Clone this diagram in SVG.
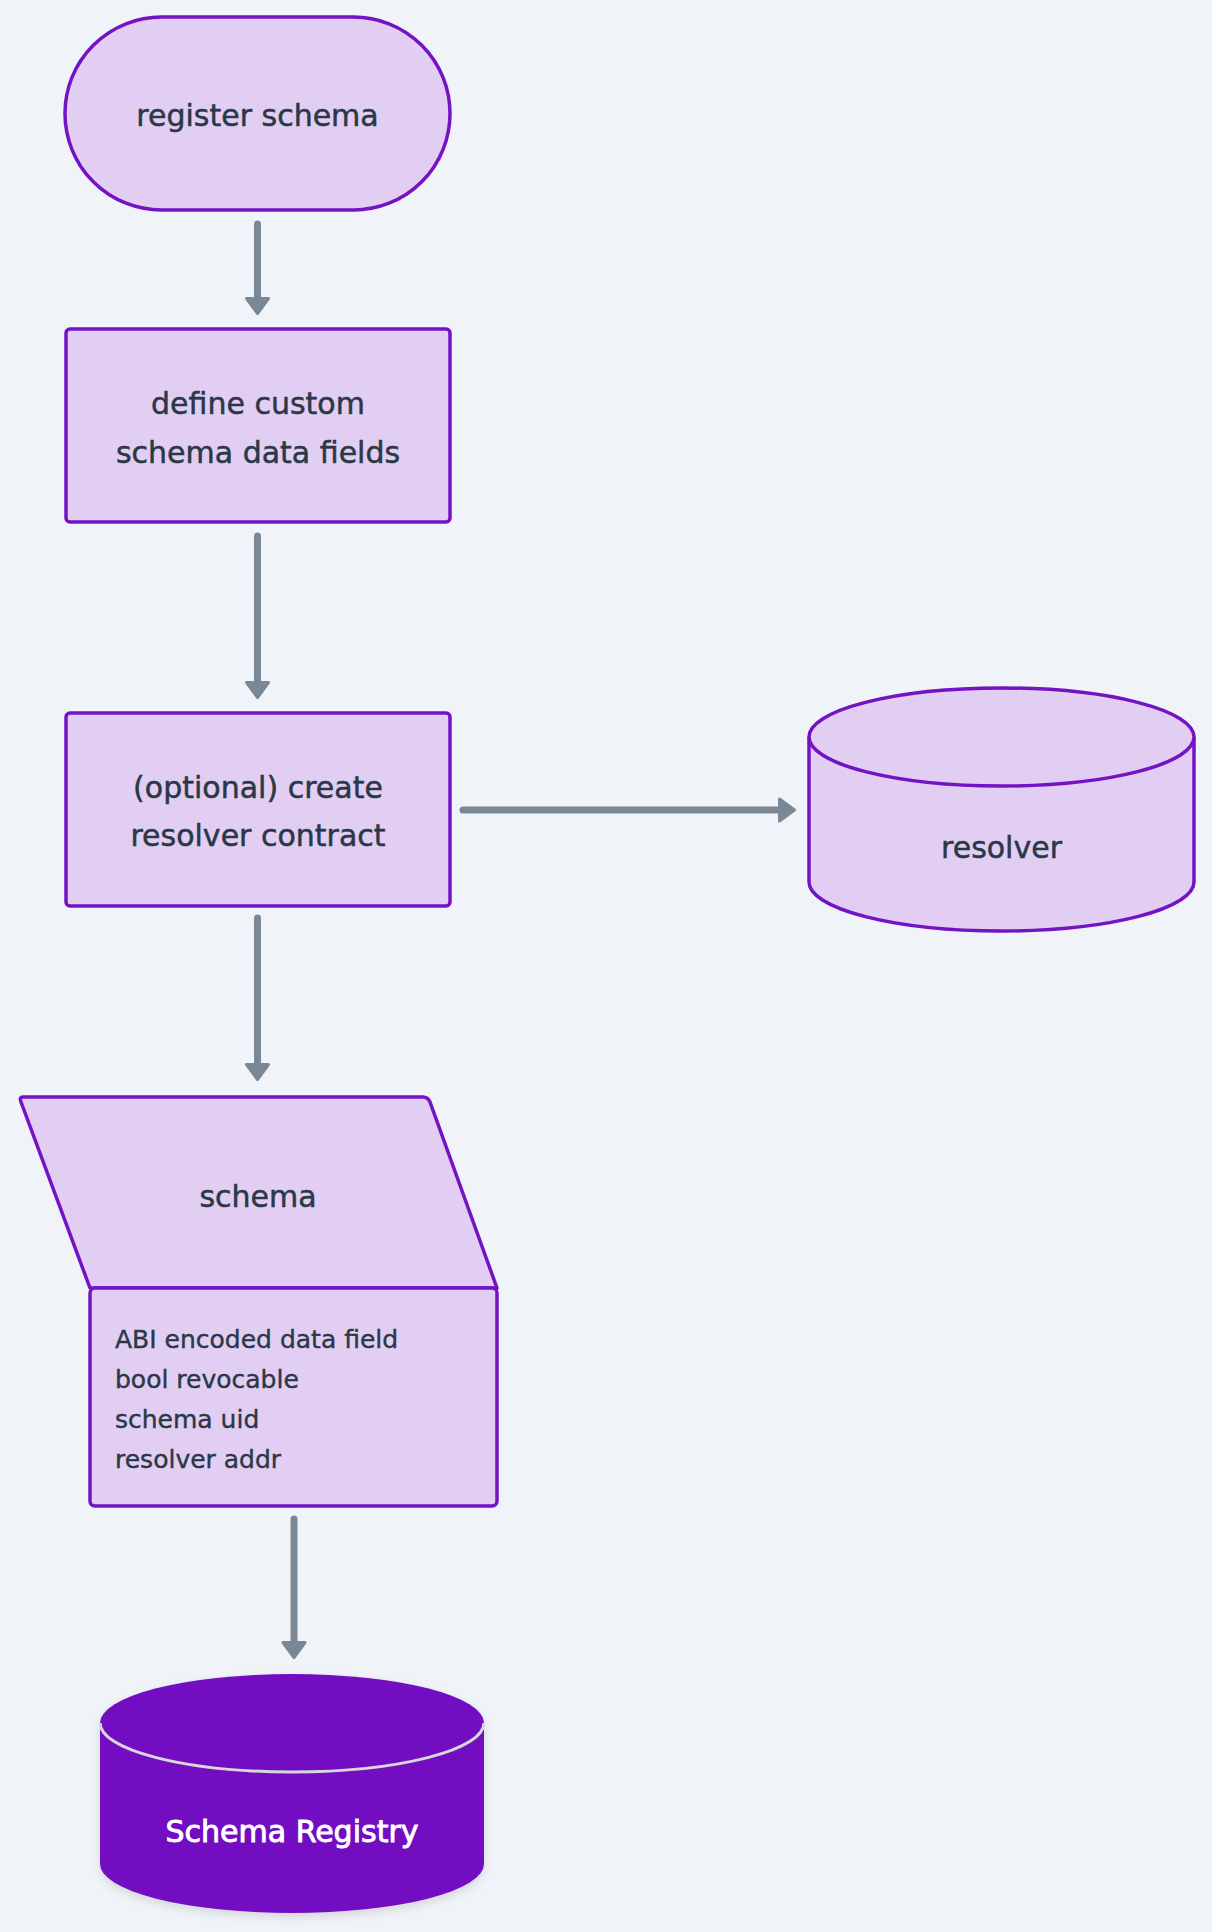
<svg xmlns="http://www.w3.org/2000/svg" width="1212" height="1932" viewBox="0 0 1212 1932">
<defs>
<style>
.node{fill:#E2CEF3;stroke:#7413C4;stroke-width:3.5;stroke-linejoin:round}
.lbl{font-family:"DejaVu Sans",sans-serif;font-size:30px;fill:#2A3846;stroke:#2A3846;stroke-width:0.5;text-anchor:middle}
.note{font-family:"DejaVu Sans",sans-serif;font-size:25px;fill:#2A3846;stroke:#2A3846;stroke-width:0.4}
.edge{stroke:#7A8794;stroke-width:7;stroke-linecap:round;fill:none}
</style>
<marker id="ah" viewBox="0 0 18 26" refX="1" refY="13" markerWidth="18" markerHeight="26" markerUnits="userSpaceOnUse" orient="auto">
<path d="M1.5,2 L16.5,13 L1.5,24 Z" fill="#7A8794" stroke="#7A8794" stroke-width="3" stroke-linejoin="round"/>
</marker>
<filter id="sh" x="-10%" y="-10%" width="120%" height="130%">
<feDropShadow dx="0" dy="4" stdDeviation="5" flood-color="#000" flood-opacity="0.12"/>
</filter>
</defs>
<rect width="1212" height="1932" fill="#F0F4F8"/>
<g id="connectors">
<line class="edge" x1="257.5" y1="224" x2="257.5" y2="298" marker-end="url(#ah)"/>
<line class="edge" x1="257.5" y1="536" x2="257.5" y2="682" marker-end="url(#ah)"/>
<line class="edge" x1="463" y1="810" x2="779" y2="810" marker-end="url(#ah)"/>
<line class="edge" x1="257.5" y1="918" x2="257.5" y2="1064" marker-end="url(#ah)"/>
<line class="edge" x1="294" y1="1519" x2="294" y2="1642" marker-end="url(#ah)"/>
</g>
<g id="register-schema">
<rect class="node" x="65" y="17" width="385" height="193" rx="96.5"/>
<text class="lbl" x="257.5" y="126">register schema</text>
</g>
<g id="define-fields">
<rect class="node" x="66" y="329" width="384" height="193" rx="4"/>
<text class="lbl" x="258" y="414">define custom</text>
<text class="lbl" x="258" y="463">schema data fields</text>
</g>
<g id="create-resolver">
<rect class="node" x="66" y="713" width="384" height="193" rx="4"/>
<text class="lbl" x="258" y="798">(optional) create</text>
<text class="lbl" x="258" y="846">resolver contract</text>
</g>
<g id="resolver">
<path class="node" d="M809,737 A192.5,49 0 0,1 1194,737 V882 A192.5,49 0 0,1 809,882 Z"/>
<path class="node" fill="none" d="M809,737 A192.5,49 0 0,0 1194,737"/>
<text class="lbl" x="1001.5" y="858">resolver</text>
</g>
<g id="schema">
<path class="node" d="M23,1097 L423,1097 Q428,1097 430,1102 L497,1288 L90,1288 L21,1102 Q19,1097 23,1097 Z"/>
<text class="lbl" x="258" y="1207">schema</text>
<rect class="node" x="90" y="1288" width="407" height="218" rx="5"/>
<text class="note" x="115" y="1348">ABI encoded data field</text>
<text class="note" x="115" y="1388">bool revocable</text>
<text class="note" x="115" y="1428">schema uid</text>
<text class="note" x="115" y="1468">resolver addr</text>
</g>
<g id="schema-registry">
<path filter="url(#sh)" fill="#7311C2" d="M100,1723 A192,49 0 0,1 484,1723 V1864 A192,49 0 0,1 100,1864 Z"/>
<path fill="none" stroke="#D8D8DC" stroke-width="3" d="M100,1723 A192,49 0 0,0 484,1723"/>
<text x="292" y="1842" font-family="DejaVu Sans,sans-serif" font-size="30" fill="#FFFFFF" stroke="#FFFFFF" stroke-width="0.9" text-anchor="middle">Schema Registry</text>
</g>
</svg>
